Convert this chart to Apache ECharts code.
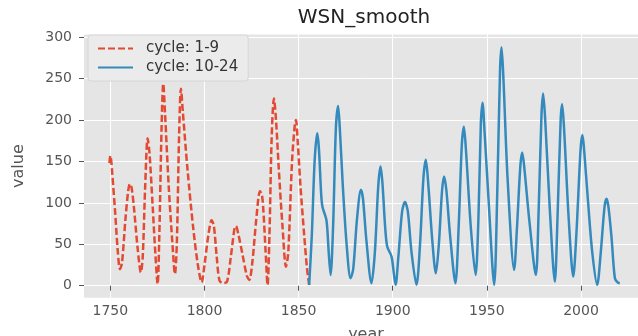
<!DOCTYPE html>
<html>
<head>
<meta charset="utf-8">
<script src="https://cdn.jsdelivr.net/npm/echarts/dist/echarts.min.js"></script>
<style>html,body{margin:0;padding:0;background:#fff}#c{width:638px;height:336px}</style>
</head>
<body>
<div id="c"></div>
<script>
const seriesNames = ['cycle: 1-9', 'cycle: 10-24'];

const cycle1to9Years = [1749.5,1750.0,1750.5,1751.0,1752.5,1754.0,1755.1,1756.2,1758.0,1759.5,1760.4,1761.3,1762.5,1764.5,1766.2,1767.2,1768.5,1769.8,1770.8,1772.5,1774.0,1775.1,1776.0,1777.2,1778.1,1779.0,1781.0,1783.0,1784.3,1785.3,1786.5,1787.5,1788.5,1791.0,1794.0,1796.5,1798.5,1800.0,1802.0,1803.8,1805.0,1806.5,1808.0,1810.0,1812.0,1814.0,1816.0,1816.7,1818.0,1820.0,1822.5,1823.8,1825.5,1827.5,1829.5,1830.5,1831.3,1832.5,1833.5,1834.5,1835.7,1836.9,1838.0,1839.5,1841.5,1843.3,1844.5,1846.5,1848.0,1848.6,1849.5,1851.0,1853.0,1854.5,1855.6];
const cycle1to9Values = [148,157,150,136,90,40,20,28,80,115,123,118,95,45,16,35,120,178,160,95,35,2,60,190,244,210,120,50,14,50,180,238,210,140,70,25,4,25,60,79,72,35,6,3,5,35,70,72,62,40,12,7,30,80,114,110,90,40,1,60,180,226,200,140,70,23,40,150,195,200,175,120,60,20,1];

const cycle10to24Years = [1855.6,1857.0,1858.5,1859.9,1860.8,1862.0,1862.7,1864.8,1866.0,1867.0,1868.3,1869.8,1871.0,1872.0,1873.5,1875.5,1877.6,1879.0,1881.0,1883.1,1884.2,1886.0,1888.7,1890.5,1892.3,1893.5,1894.5,1896.0,1897.1,1899.4,1901.5,1903.0,1905.0,1906.5,1908.0,1910.0,1912.6,1914.5,1916.3,1917.6,1918.8,1921.0,1922.9,1924.5,1926.2,1927.3,1928.5,1930.5,1933.3,1935.0,1936.7,1937.8,1939.0,1941.5,1944.0,1945.5,1946.8,1947.7,1948.8,1951.0,1953.9,1955.5,1957.0,1957.8,1958.8,1961.0,1964.5,1966.0,1967.8,1968.8,1970.0,1972.5,1976.0,1977.5,1979.0,1979.9,1981.0,1983.5,1986.1,1987.5,1989.2,1990.0,1991.0,1993.5,1995.9,1997.5,1999.8,2000.8,2001.8,2003.8,2006.0,2008.6,2010.5,2012.5,2013.6,2014.6,2016.2,2018.0,2019.5,2020.6];
const cycle10to24Values = [1,60,150,184,165,110,95,79,40,13,70,190,217,185,120,50,9,20,80,116,105,55,3,40,120,144,125,70,47,35,1,35,90,101,90,40,1,50,130,152,125,55,15,50,115,132,115,60,3,70,170,192,160,70,13,80,195,221,185,100,1,110,260,288,250,130,19,70,145,161,140,80,13,90,205,232,200,90,5,80,200,219,190,80,11,60,165,182,160,100,40,1,40,95,105,95,59,9,4,3];

const xTickValues = [1750, 1800, 1850, 1900, 1950, 2000];
const yTickValues = [0, 50, 100, 150, 200, 250, 300];

function pairs(xs, ys) { return xs.map((x, i) => [x, ys[i]]); }

const chart = echarts.init(document.getElementById('c'), null, { renderer: 'canvas' });
chart.setOption({
  animation: false,
  backgroundColor: '#ffffff',
  title: {
    text: 'WSN_smooth',
    left: 364,
    textAlign: 'center',
    top: 8,
    padding: 0,
    textStyle: { fontFamily: 'DejaVu Sans', fontSize: 20, fontWeight: 'normal', color: '#222222' }
  },
  legend: {
    data: seriesNames,
    orient: 'vertical',
    left: 88,
    top: 35,
    padding: [6, 10, 6, 9],
    itemGap: 4,
    itemWidth: 35,
    itemHeight: 14,
    itemStyle: { opacity: 0 },
    backgroundColor: '#ebebeb',
    borderColor: '#d6d6d6',
    borderWidth: 1,
    borderRadius: 3,
    textStyle: { fontFamily: 'DejaVu Sans', fontSize: 15, color: '#333333', padding: [0, 0, 0, 8] }
  },
  grid: {
    show: true,
    left: 84,
    right: -10,
    top: 34.4,
    bottom: 38.3,
    outerBoundsMode: 'none',
    backgroundColor: '#E5E5E5',
    borderWidth: 0,
    containLabel: false
  },
  xAxis: {
    type: 'value',
    min: 1736,
    max: 2035.6,
    name: 'year',
    nameLocation: 'middle',
    nameGap: 29,
    nameTextStyle: { fontFamily: 'DejaVu Sans', fontSize: 16, color: '#555555' },
    axisLine: { show: false },
    axisTick: { show: true, length: 5, customValues: xTickValues, lineStyle: { color: '#555555', width: 1 } },
    axisLabel: { customValues: xTickValues, formatter: v => String(v), margin: 7, fontFamily: 'DejaVu Sans', fontSize: 14, color: '#555555' },
    splitLine: { show: true, lineStyle: { color: '#ffffff', width: 1 } }
  },
  yAxis: {
    type: 'value',
    min: -14.5,
    max: 303.5,
    name: 'value',
    nameLocation: 'middle',
    nameGap: 57,
    nameRotate: 90,
    nameTextStyle: { fontFamily: 'DejaVu Sans', fontSize: 16, color: '#555555' },
    axisLine: { show: false },
    axisTick: { show: true, length: 5, customValues: yTickValues, lineStyle: { color: '#555555', width: 1 } },
    axisLabel: { customValues: yTickValues, formatter: v => String(v), margin: 12, fontFamily: 'DejaVu Sans', fontSize: 14, color: '#555555' },
    splitLine: { show: true, lineStyle: { color: '#ffffff', width: 1 } }
  },
  series: [
    {
      name: seriesNames[0],
      type: 'line',
      data: pairs(cycle1to9Years, cycle1to9Values),
      symbol: 'none',
      showSymbol: false,
      smooth: 0.3,
      color: '#E24A33',
      lineStyle: { color: '#E24A33', width: 2.5, type: [7, 3] }
    },
    {
      name: seriesNames[1],
      type: 'line',
      data: pairs(cycle10to24Years, cycle10to24Values),
      symbol: 'none',
      showSymbol: false,
      smooth: 0.3,
      color: '#348ABD',
      lineStyle: { color: '#348ABD', width: 2.5 }
    }
  ]
});
</script>
</body>
</html>
